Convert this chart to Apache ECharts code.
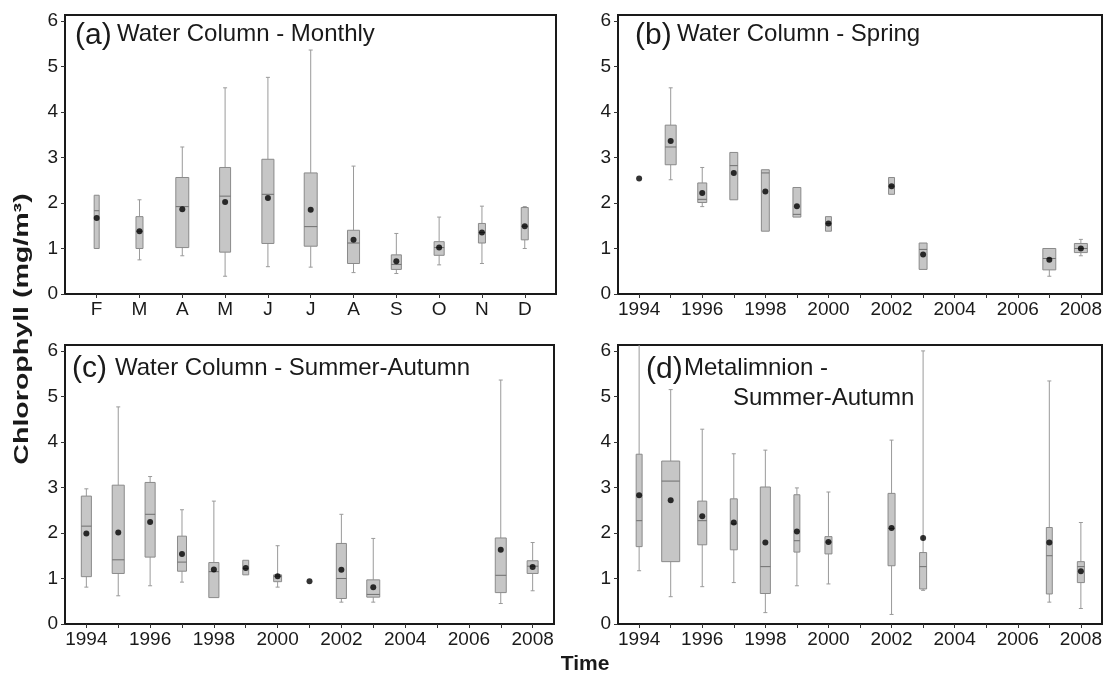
<!DOCTYPE html>
<html>
<head>
<meta charset="utf-8">
<script src="https://cdn.jsdelivr.net/npm/echarts@6/dist/echarts.min.js"></script>
<style>
  html, body { margin: 0; padding: 0; background: #ffffff; }
  #chart { width: 1105px; height: 675px; }
</style>
</head>
<body>
<div id="chart"></div>
<script>
// ---------------- DATA ----------------
const yTicks = [0, 1, 2, 3, 4, 5, 6];
const yearTicks = [1994,1995,1996,1997,1998,1999,2000,2001,2002,2003,2004,2005,2006,2007,2008];
const yearLabels = [1994,1996,1998,2000,2002,2004,2006,2008];

// (a) Water Column - Monthly
const monthLabelsA = ['F','M','A','M','J','J','A','S','O','N','D'];
const monthNumA = [2,3,4,5,6,7,8,9,10,11,12];
const lowA  = [1.00,0.75,0.84,0.39,0.60,0.59,0.47,0.45,0.64,0.67,1.00];
const q1A   = [1.00,1.00,1.02,0.92,1.11,1.05,0.67,0.54,0.85,1.12,1.19];
const medA  = [1.83,1.38,1.92,2.15,2.19,1.48,1.12,0.65,1.02,1.35,1.49];
const q3A   = [2.17,1.70,2.56,2.78,2.96,2.66,1.40,0.86,1.15,1.55,1.90];
const highA = [2.17,2.07,3.23,4.53,4.76,5.36,2.81,1.33,1.69,1.93,1.92];
const meanA = [1.67,1.38,1.86,2.02,2.11,1.85,1.19,0.72,1.02,1.35,1.49];
const relWidthA = [0.28,0.39,0.72,0.61,0.67,0.72,0.67,0.56,0.56,0.39,0.39];

// (b) Water Column - Spring
const yearsB = [1994,1995,1996,1997,1998,1999,2000,2002,2003,2007,2008];
const lowB  = [null,2.51,1.92,2.07,1.38,1.69,1.38,2.19,0.54,0.39,0.84];
const q1B   = [null,2.84,2.01,2.07,1.38,1.69,1.38,2.19,0.54,0.53,0.91];
const medB  = [null,3.23,2.08,2.82,2.66,1.75,1.55,2.37,0.98,0.78,1.00];
const q3B   = [null,3.71,2.44,3.11,2.73,2.34,1.70,2.56,1.12,1.00,1.11];
const highB = [null,4.53,2.78,3.11,2.73,2.34,1.70,2.56,1.12,1.00,1.20];
const meanB = [2.54,3.36,2.22,2.66,2.25,1.93,1.55,2.37,0.87,0.75,1.00];
const relWidthB = [null,0.61,0.50,0.44,0.44,0.44,0.33,0.33,0.44,0.72,0.72];

// (c) Water Column - Summer-Autumn
const yearsC = [1994,1995,1996,1997,1998,1999,2000,2001,2002,2003,2007,2008];
const lowC  = [0.81,0.62,0.84,0.92,0.58,1.08,0.81,null,0.48,0.48,0.45,0.73];
const q1C   = [1.04,1.11,1.47,1.16,0.58,1.08,0.93,null,0.56,0.59,0.69,1.11];
const medC  = [2.15,1.41,2.41,1.36,1.15,1.22,1.05,null,1.00,0.65,1.07,1.27];
const q3C   = [2.81,3.05,3.11,1.93,1.35,1.40,1.08,null,1.77,0.97,1.89,1.39];
const highC = [2.97,4.77,3.24,2.51,2.70,1.40,1.72,null,2.41,1.88,5.36,1.79];
const meanC = [1.99,2.01,2.24,1.54,1.20,1.23,1.05,0.94,1.19,0.81,1.63,1.25];
const relWidthC = [0.56,0.67,0.56,0.50,0.56,0.33,0.44,null,0.56,0.72,0.61,0.61];

// (d) Metalimnion - Summer-Autumn
const yearsD = [1994,1995,1996,1997,1998,1999,2000,2002,2003,2007,2008];
const lowD  = [1.17,0.60,0.82,0.91,0.25,0.84,0.88,0.21,0.74,0.48,0.34];
const q1D   = [1.70,1.37,1.74,1.63,0.67,1.58,1.54,1.28,0.77,0.66,0.91];
const medD  = [2.27,3.14,2.27,2.20,1.26,1.83,1.80,2.10,1.26,1.50,1.26];
const q3D   = [3.73,3.58,2.70,2.75,3.01,2.84,1.92,2.87,1.57,2.12,1.37];
const highD = [6.20,5.15,4.28,3.74,3.82,2.99,2.90,4.04,6.00,5.34,2.23];
const meanD = [2.83,2.72,2.37,2.23,1.79,2.03,1.80,2.11,1.89,1.79,1.16];
const relWidthD = [0.33,1.00,0.50,0.39,0.56,0.33,0.39,0.39,0.39,0.33,0.39];

// ---------------- STYLE / LAYOUT ----------------
const BOX_MAX = 18;
const CAP_W = 4;
const FONT = "'Liberation Sans', Arial, sans-serif";
const TXT = '#1a1a1a';

function boxData(xs, lo, q1, md, q3, hi, rw) {
  const out = [];
  xs.forEach((x, i) => {
    if (lo[i] == null) return;
    out.push([x, lo[i], q1[i], md[i], q3[i], hi[i], rw[i]]);
  });
  return out;
}
function meanData(xs, mean) { return xs.map((x, i) => [x, mean[i]]); }

function renderBox(params, api) {
  const x = api.value(0);
  const lo = api.value(1), q1 = api.value(2), md = api.value(3), q3 = api.value(4), hi = api.value(5);
  const w = api.value(6) * BOX_MAX;
  const cx = api.coord([x, md])[0];
  const yLo = api.coord([x, lo])[1], yQ1 = api.coord([x, q1])[1], yMd = api.coord([x, md])[1];
  const yQ3 = api.coord([x, q3])[1], yHi = api.coord([x, hi])[1];
  const wl = { stroke: '#9a9a9a', lineWidth: 1 };
  const ch = [];
  if (yLo - yQ1 > 0.5) {
    ch.push({ type: 'line', shape: { x1: cx, y1: yQ1, x2: cx, y2: yLo }, style: wl });
    ch.push({ type: 'line', shape: { x1: cx - CAP_W / 2, y1: yLo, x2: cx + CAP_W / 2, y2: yLo }, style: wl });
  }
  if (yQ3 - yHi > 0.5) {
    ch.push({ type: 'line', shape: { x1: cx, y1: yQ3, x2: cx, y2: yHi }, style: wl });
    ch.push({ type: 'line', shape: { x1: cx - CAP_W / 2, y1: yHi, x2: cx + CAP_W / 2, y2: yHi }, style: wl });
  }
  ch.push({ type: 'rect', shape: { x: cx - w / 2, y: yQ3, width: w, height: Math.max(1, yQ1 - yQ3) },
            style: { fill: '#c6c6c6', stroke: '#8a8a8a', lineWidth: 1 } });
  ch.push({ type: 'line', shape: { x1: cx - w / 2, y1: yMd, x2: cx + w / 2, y2: yMd },
            style: { stroke: '#6f6f6f', lineWidth: 1 } });
  return { type: 'group', children: ch };
}

const grids = [
  { left: 65,  top: 15,  width: 491, height: 279 },
  { left: 618, top: 15,  width: 489, height: 279 },
  { left: 65,  top: 345, width: 489, height: 279 },
  { left: 618, top: 345, width: 489, height: 279 }
].map(g => Object.assign(g, { show: true, borderColor: '#1a1a1a', borderWidth: 2, backgroundColor: '#fff', containLabel: false }));

const labelStyle = { color: TXT, fontFamily: FONT, fontSize: 19 };
const tickStyle = { show: true, length: 4, lineStyle: { color: '#333', width: 1 } };

function yearAxis(gi) {
  return {
    type: 'value', gridIndex: gi, min: 1993.33, max: 2008.67,
    splitLine: { show: false }, axisLine: { show: false },
    axisTick: Object.assign({ customValues: yearTicks }, tickStyle),
    axisLabel: Object.assign({ customValues: yearLabels, margin: 6,
      formatter: v => String(Math.round(v)) }, labelStyle)
  };
}
const xAxes = [
  {
    type: 'value', gridIndex: 0, min: 1.26, max: 12.73,
    splitLine: { show: false }, axisLine: { show: false },
    axisTick: Object.assign({ customValues: monthNumA }, tickStyle),
    axisLabel: Object.assign({ customValues: monthNumA, margin: 6,
      formatter: v => monthLabelsA[Math.round(v) - 2] }, labelStyle)
  },
  yearAxis(1), yearAxis(2), yearAxis(3)
];
const yAxes = [0, 1, 2, 3].map(gi => ({
  type: 'value', gridIndex: gi, min: 0, max: 6.13,
  splitLine: { show: false }, axisLine: { show: false },
  axisTick: Object.assign({ customValues: yTicks }, tickStyle),
  axisLabel: Object.assign({ customValues: yTicks, margin: 7,
    formatter: v => String(Math.round(v)) }, labelStyle)
}));

const panels = [
  [monthNumA, lowA, q1A, medA, q3A, highA, relWidthA, meanA],
  [yearsB, lowB, q1B, medB, q3B, highB, relWidthB, meanB],
  [yearsC, lowC, q1C, medC, q3C, highC, relWidthC, meanC],
  [yearsD, lowD, q1D, medD, q3D, highD, relWidthD, meanD]
];
const series = [];
panels.forEach((p, i) => {
  series.push({
    type: 'custom', xAxisIndex: i, yAxisIndex: i, clip: true, silent: true,
    encode: { x: 0, y: [1, 2, 3, 4, 5] },
    renderItem: renderBox,
    data: boxData(p[0], p[1], p[2], p[3], p[4], p[5], p[6]),
    z: 2
  });
  series.push({
    type: 'scatter', xAxisIndex: i, yAxisIndex: i, silent: true,
    symbol: 'circle', symbolSize: 6, itemStyle: { color: '#000' },
    data: meanData(p[0], p[7]), z: 3
  });
});

function txt(x, y, text, size, extra) {
  return Object.assign({
    type: 'text', x: x, y: y, silent: true, z: 10,
    style: Object.assign({ text: text, fill: TXT, font: size + 'px ' + FONT, verticalAlign: 'middle', align: 'left' }, extra || {})
  });
}

const graphic = [
  txt(75, 36, '(a)', 30), txt(117, 34, 'Water Column - Monthly', 24),
  txt(635, 36, '(b)', 30), txt(677, 34, 'Water Column - Spring', 24),
  txt(72, 369, '(c)', 30), txt(115, 368, 'Water Column - Summer-Autumn', 24),
  txt(646, 370, '(d)', 30), txt(684, 368, 'Metalimnion -', 24), txt(733, 398, 'Summer-Autumn', 24),
  {
    type: 'text', x: 22, y: 329, rotation: Math.PI / 2, scaleX: 1.36, silent: true, z: 10,
    style: { text: 'Chlorophyll (mg/m³)', fill: TXT, font: 'bold 21px ' + FONT, align: 'center', verticalAlign: 'middle' }
  },
  {
    type: 'text', x: 585, y: 664, silent: true, z: 10,
    style: { text: 'Time', fill: TXT, font: 'bold 21px ' + FONT, align: 'center', verticalAlign: 'middle' }
  }
];

const chart = echarts.init(document.getElementById('chart'), null, { renderer: 'canvas' });
chart.setOption({
  backgroundColor: '#ffffff',
  animation: false,
  grid: grids,
  xAxis: xAxes,
  yAxis: yAxes,
  series: series,
  graphic: graphic
});
</script>
</body>
</html>
